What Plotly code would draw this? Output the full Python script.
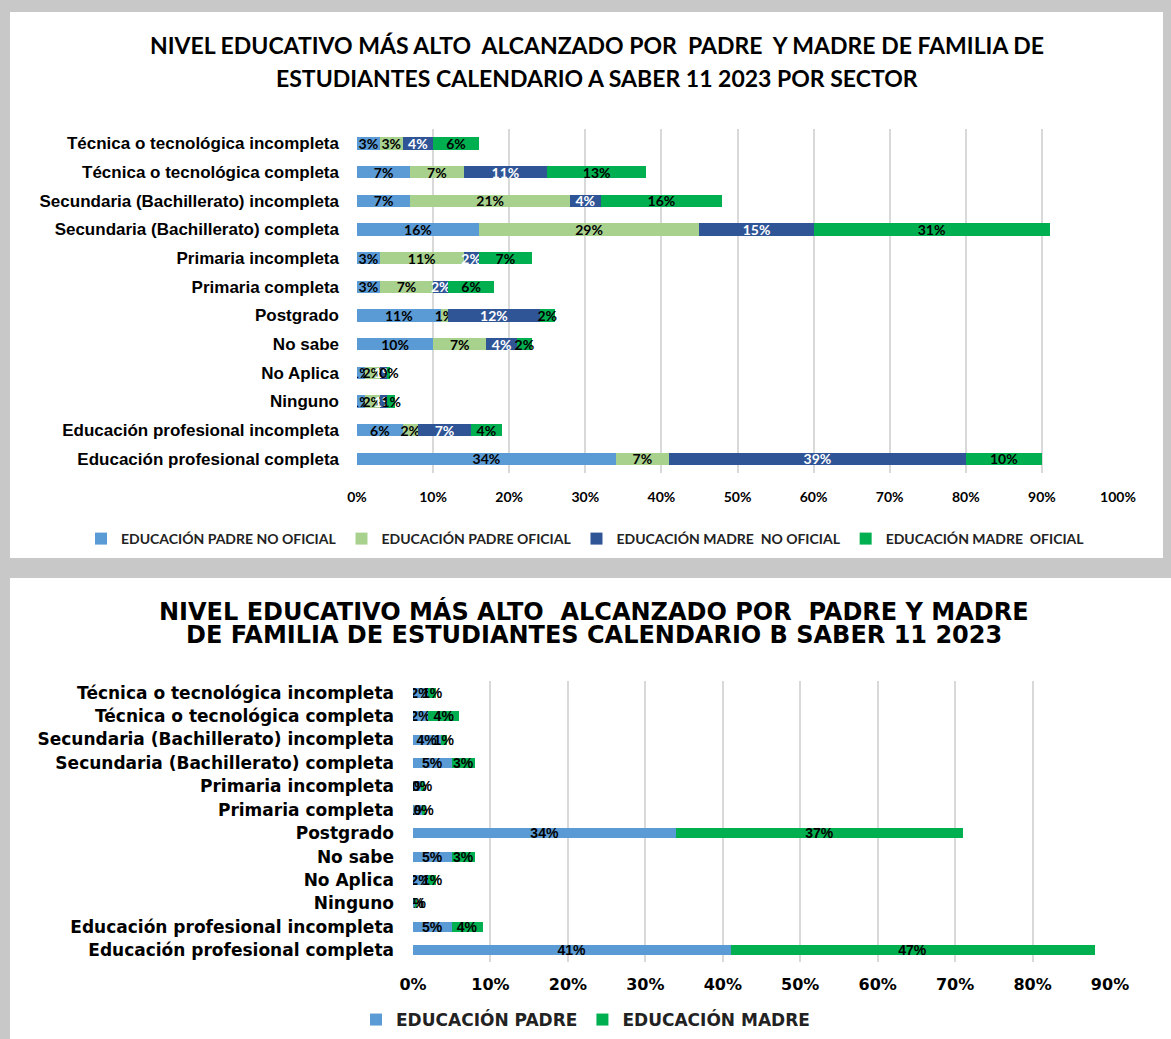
import plotly.graph_objects as go

# categories, bottom to top (same list for both charts)
categorias = [
    'Educación profesional completa',
    'Educación profesional incompleta',
    'Ninguno',
    'No Aplica',
    'No sabe',
    'Postgrado',
    'Primaria completa',
    'Primaria incompleta',
    'Secundaria (Bachillerato) completa',
    'Secundaria (Bachillerato) incompleta',
    'Técnica o tecnológica completa',
    'Técnica o tecnológica incompleta',
]

# calendario A, por sector
padre_no_oficial = [0.34, 0.06, 0.01, 0.01, 0.10, 0.11, 0.03, 0.03, 0.16, 0.07, 0.07, 0.03]
padre_oficial = [0.07, 0.02, 0.02, 0.02, 0.07, 0.01, 0.07, 0.11, 0.29, 0.21, 0.07, 0.03]
madre_no_oficial = [0.39, 0.07, 0.01, 0.01, 0.04, 0.12, 0.02, 0.02, 0.15, 0.04, 0.11, 0.04]
madre_oficial = [0.10, 0.04, 0.01, 0.004, 0.02, 0.02, 0.06, 0.07, 0.31, 0.16, 0.13, 0.06]

# calendario B
padre_b = [0.41, 0.05, 0.003, 0.02, 0.05, 0.34, 0.012, 0.01, 0.05, 0.036, 0.02, 0.02]
madre_b = [0.47, 0.04, 0.002, 0.01, 0.03, 0.37, 0.004, 0.004, 0.03, 0.008, 0.04, 0.01]

ticks_a = [0, 0.1, 0.2, 0.3, 0.4, 0.5, 0.6, 0.7, 0.8, 0.9, 1.0]
ticks_b = [0, 0.1, 0.2, 0.3, 0.4, 0.5, 0.6, 0.7, 0.8, 0.9]

CAL = 'Lato'
ARIAL = 'Liberation Sans'
WIDE = 'DejaVu Sans'

fig = go.Figure()

series_a = [
    ('EDUCACIÓN PADRE NO OFICIAL', padre_no_oficial, '#5B9BD5', 'black'),
    ('EDUCACIÓN PADRE OFICIAL', padre_oficial, '#A9D18E', 'black'),
    ('EDUCACIÓN MADRE  NO OFICIAL', madre_no_oficial, '#2F5597', 'white'),
    ('EDUCACIÓN MADRE  OFICIAL', madre_oficial, '#00B050', 'black'),
]
for name, vals, color, tcolor in series_a:
    fig.add_trace(go.Bar(
        y=categorias, x=vals, name=name, orientation='h',
        marker=dict(color=color, line=dict(width=0)),
        texttemplate='%{x:.0%}', textposition='inside', insidetextanchor='middle',
        textangle=0, constraintext='none',
        textfont=dict(family=CAL, size=14, color=tcolor, weight='bold'),
        xaxis='x', yaxis='y', legend='legend',
    ))

series_b = [
    ('EDUCACIÓN PADRE', padre_b, '#5B9BD5'),
    ('EDUCACIÓN MADRE', madre_b, '#00B050'),
]
for name, vals, color in series_b:
    fig.add_trace(go.Bar(
        y=categorias, x=vals, name=name, orientation='h',
        marker=dict(color=color, line=dict(width=0)),
        texttemplate='%{x:.0%}', textposition='inside', insidetextanchor='middle',
        textangle=0, constraintext='none',
        textfont=dict(family=ARIAL, size=14, color='black', weight='bold'),
        xaxis='x2', yaxis='y2', legend='legend2',
    ))

H = 1039.0
W = 1171.0

fig.update_layout(
    width=1171, height=1039,
    margin=dict(l=0, r=0, t=0, b=0),
    barmode='stack', bargap=0.57,
    paper_bgcolor='#c8c8c8', plot_bgcolor='rgba(0,0,0,0)',
    uniformtext=dict(minsize=14, mode='show'),
    xaxis=dict(
        domain=[357 / W, 1118 / W], range=[0, 1], tickvals=ticks_a, tickformat='.0%',
        showgrid=True, gridcolor='#d9d9d9', gridwidth=2, zeroline=False,
        tickfont=dict(family=CAL, size=14, color='black', weight='bold'),
        anchor='y', ticklabelstandoff=14, automargin=False,
    ),
    yaxis=dict(
        domain=[1 - 473 / H, 1 - 129 / H], showgrid=False,
        tickfont=dict(family=ARIAL, size=17, color='black', weight='bold'),
        anchor='x', ticklabelstandoff=17, automargin=False,
    ),
    xaxis2=dict(
        domain=[413 / W, 1110 / W], range=[0, 0.9], tickvals=ticks_b, tickformat='.0%',
        showgrid=True, gridcolor='#d9d9d9', gridwidth=2, zeroline=False,
        tickfont=dict(family=WIDE, size=16, color='black', weight='bold'),
        anchor='y2', ticklabelstandoff=11, automargin=False,
    ),
    yaxis2=dict(
        domain=[1 - 962 / H, 1 - 681 / H], showgrid=False,
        tickfont=dict(family=WIDE, size=17, color='black', weight='bold'),
        anchor='x2', ticklabelstandoff=18, automargin=False,
    ),
    legend=dict(
        orientation='h', x=0.5, xanchor='center', y=1 - 539 / H, yanchor='middle',
        font=dict(family=CAL, size=14, color='#222', weight='bold'),
        bgcolor='rgba(0,0,0,0)', itemwidth=30, traceorder='normal',
    ),
    legend2=dict(
        orientation='h', x=0.5, xanchor='center', y=1 - 1020 / H, yanchor='middle',
        font=dict(family=WIDE, size=17, color='#222', weight='bold'),
        bgcolor='rgba(0,0,0,0)', itemwidth=30, traceorder='normal',
    ),
    showlegend=True,
)

# white cards with grey frame
fig.add_shape(type='rect', xref='paper', yref='paper', x0=10 / W, x1=1163 / W,
              y0=1 - 558 / H, y1=1 - 12 / H, fillcolor='white', line=dict(width=0), layer='below')
fig.add_shape(type='rect', xref='paper', yref='paper', x0=10 / W, x1=1.0,
              y0=0, y1=1 - 578 / H, fillcolor='white', line=dict(width=0), layer='below')

titulo_a = ['NIVEL EDUCATIVO MÁS ALTO  ALCANZADO POR  PADRE  Y MADRE DE FAMILIA DE',
            'ESTUDIANTES CALENDARIO A SABER 11 2023 POR SECTOR']
titulo_b = ['NIVEL EDUCATIVO MÁS ALTO  ALCANZADO POR  PADRE Y MADRE',
            'DE FAMILIA DE ESTUDIANTES CALENDARIO B SABER 11 2023']

for txt, ypx in zip(titulo_a, [45, 78]):
    fig.add_annotation(
        text=txt, xref='paper', yref='paper', x=597 / W, y=1 - ypx / H,
        xanchor='center', yanchor='middle', showarrow=False,
        font=dict(family=CAL, size=23, color='black', weight='bold'),
    )
for txt, ypx in zip(titulo_b, [611, 635]):
    fig.add_annotation(
        text=txt, xref='paper', yref='paper', x=594 / W, y=1 - ypx / H,
        xanchor='center', yanchor='middle', showarrow=False,
        font=dict(family=WIDE, size=24, color='black', weight='bold'),
    )

fig.write_html('out.html', config={'displayModeBar': False},
               post_script="document.body.style.margin='0';")
